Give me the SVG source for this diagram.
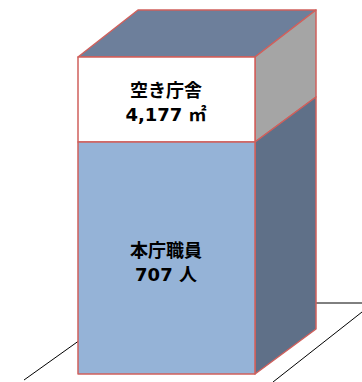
<svg xmlns="http://www.w3.org/2000/svg" width="362" height="382" viewBox="0 0 362 382">
<style>
.g{stroke:#000;stroke-width:1;fill:none}
.b{stroke:#D0605C;stroke-width:1.5;stroke-linejoin:round}
.t{font-family:"DejaVu Sans","Noto Sans CJK JP",sans-serif;font-weight:bold;font-size:18px;fill:#000;text-anchor:middle}
</style>
<rect width="362" height="382" fill="#fff"/>
<g id="ground">
<line class="g" x1="24" y1="380" x2="80" y2="340"/>
<line class="g" x1="316" y1="303" x2="362" y2="303"/>
<line class="g" x1="273" y1="382" x2="362" y2="312"/>
</g>
<g id="box">
<polygon class="b" fill="#6D7F9B" points="78,57 138,10 316,10 255,57"/>
<polygon class="b" fill="#A5A5A5" points="255,57 316,10 316,97 255,142"/>
<polygon class="b" fill="#5F7088" points="255,142 316,97 316,329 255,374"/>
</g>
<g id="vacant">
<rect class="b" fill="#fff" x="78" y="57" width="177" height="85"/>
<text class="t" x="166" y="97">空き庁舎</text>
<text class="t" x="166" y="121">4,177 ㎡</text>
</g>
<g id="staff">
<rect class="b" fill="#95B3D7" x="78" y="142" width="177" height="232"/>
<text class="t" x="166" y="257">本庁職員</text>
<text class="t" x="166" y="281">707 人</text>
</g>
</svg>
